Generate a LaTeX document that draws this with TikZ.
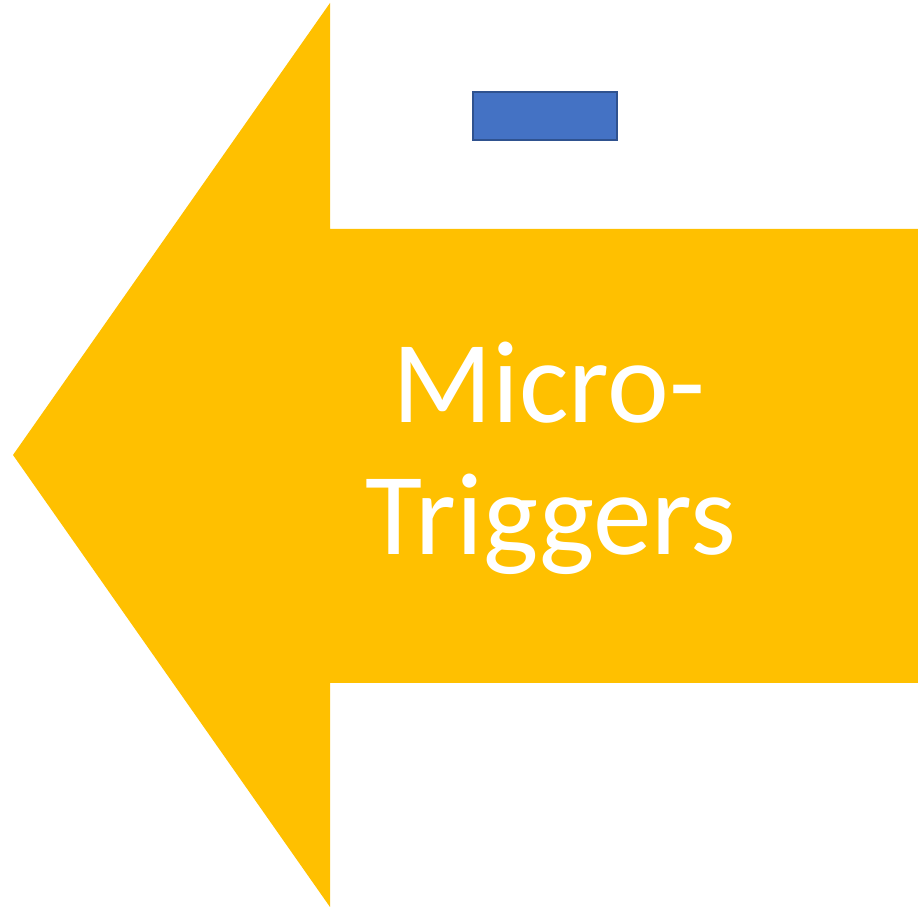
\documentclass[tikz,border=0pt]{standalone}
\usepackage{fontspec}
\setmainfont{Carlito}
\definecolor{arrowyellow}{HTML}{FFC000}
\definecolor{boxblue}{HTML}{4472C4}
\definecolor{boxedge}{HTML}{2F528F}

\begin{document}
\begin{tikzpicture}[
        bigarrow/.style={fill=arrowyellow, draw=none},
        bluebox/.style={fill=boxblue, draw=boxedge, line width=0.7pt},
        label/.style={text=white, font=\fontsize{33.3pt}{37.5pt}\selectfont, anchor=base, inner sep=0pt}
        ]
        \useasboundingbox (0,0) rectangle (9.18,9.07);

        % the left arrow
        \fill[bigarrow] (0.13,4.52) -- (3.30,9.04) -- (3.30,6.78) -- (9.18,6.78)
          -- (9.18,2.24) -- (3.30,2.24) -- (3.30,0) -- cycle;

        \draw[bluebox] (4.73,8.15) rectangle (6.17,7.67);

        \node[label] (micro) at (5.49,4.84) {Micro-};
        \node[label] (triggers) at (5.51,3.52) {Triggers};
      \end{tikzpicture}
\end{document}
